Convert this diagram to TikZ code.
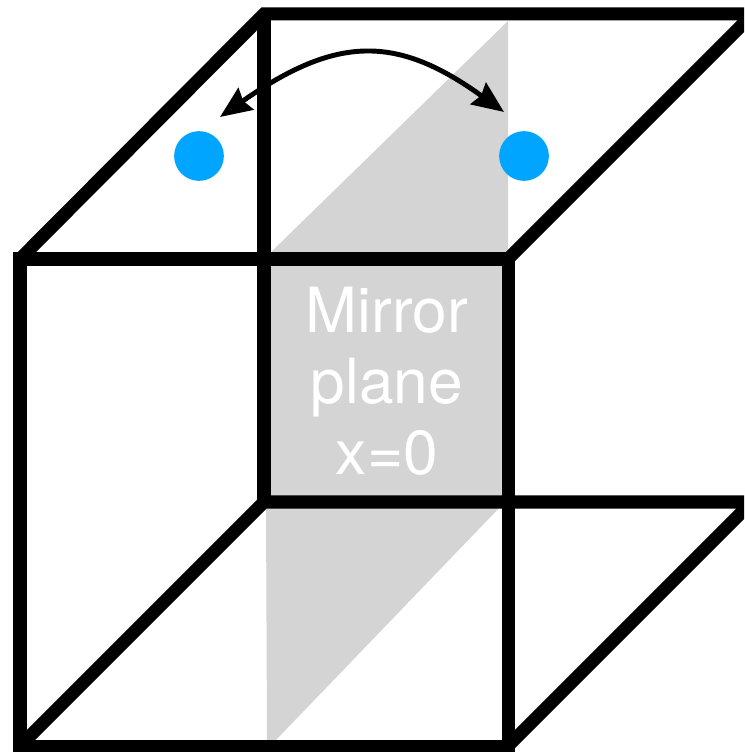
\documentclass[tikz,border=0pt]{standalone}
\usepackage{fontspec}
\setmainfont{TeX Gyre Heros}
\usepackage{xcolor}
\usetikzlibrary{arrows.meta}
\definecolor{dotblue}{HTML}{00A5FF}
\definecolor{mirrorgray}{HTML}{D4D4D4}
\tikzset{
  edge/.style={draw=black,line width=3.7pt,line join=miter},
  atom/.style={circle,fill=dotblue,inner sep=0pt,minimum size=1.42cm*0.35},
  swap/.style={black,line width=1.4pt,{Stealth[length=9pt,width=7.5pt,inset=1pt]}-{Stealth[length=9pt,width=7.5pt,inset=1pt]}}
}
\begin{document}
\begin{tikzpicture}[x=0.01cm,y=-0.01cm]
  \useasboundingbox (0,0) rectangle (744,752);
  \clip (0,0) rectangle (744,752);
  % mirror plane
  \fill[mirrorgray] (270,253)--(508,21)--(508,253)--cycle;
  \fill[mirrorgray] (264,260) rectangle (508,502);
  \fill[mirrorgray] (266,505)--(502,505)--(275,741)--(267,741)--cycle;
  % cube corners
  \coordinate (tl) at (20,259);
  \coordinate (tm) at (508,259);
  \coordinate (ml) at (264,259);
  \coordinate (bl) at (20,746);
  \coordinate (bm) at (508,746);
  \coordinate (il) at (264,502);
  \coordinate (bk) at (264,14);
  % cube edges
  \draw[edge] (tl) rectangle (bm);
  \draw[edge] (ml)--(il);
  \draw[edge] (bk)--(ml);
  \draw[edge] (tl)--(bk)--(753,14)--(tm);
  \draw[edge] (bl)--(il)--(752,502)--(bm);
  % atoms
  \node[atom] (left) at (199,156) {};
  \node[atom] (right) at (524,156) {};
  \coordinate (tipl) at (220,117);
  \coordinate (tipr) at (504,112);
  \draw[swap] (tipl) .. controls (337,35) and (397,35) .. (tipr);
  \node[white,align=center,font=\fontsize{17.7}{20.2}\selectfont] (label) at (387,381) {Mirror\\plane\\x=0};
\end{tikzpicture}
\end{document}
